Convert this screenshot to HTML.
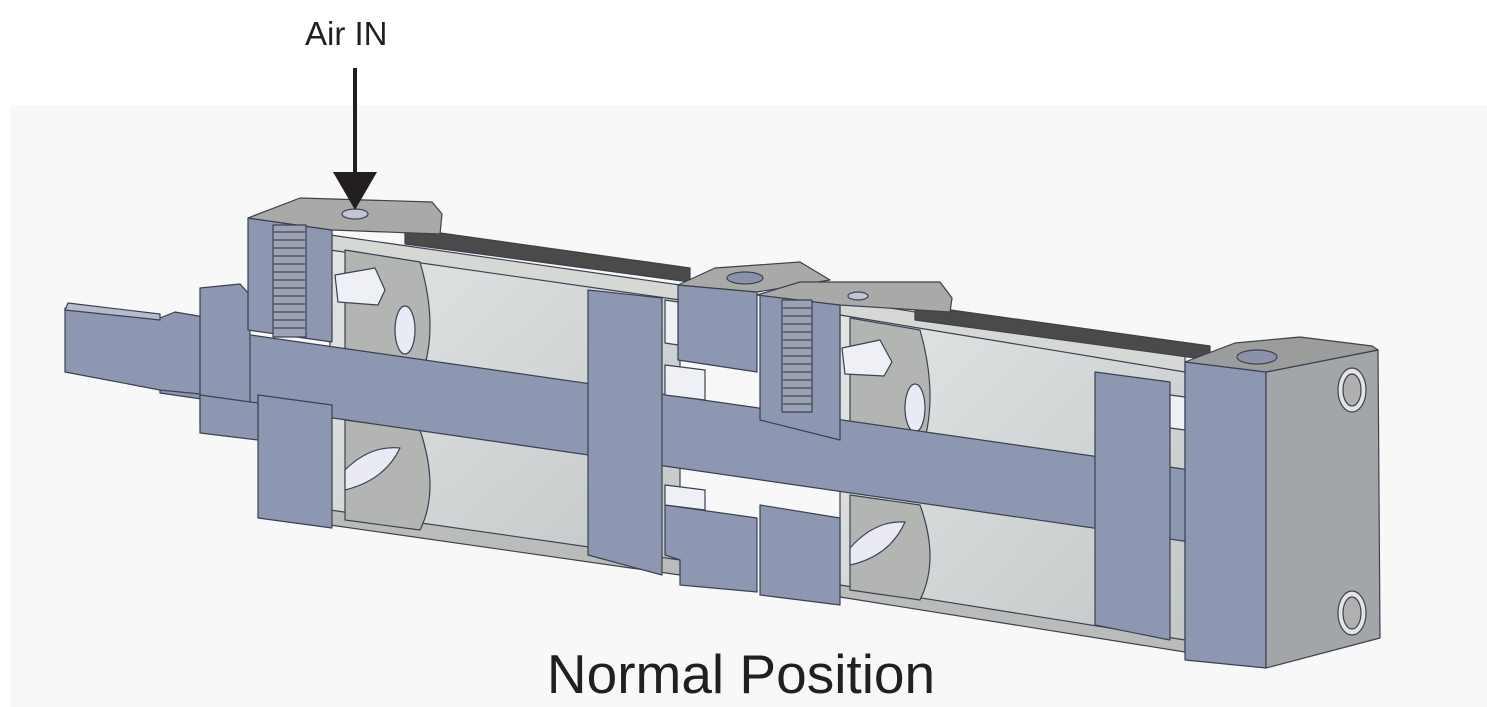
<!DOCTYPE html>
<html><head><meta charset="utf-8"><style>
html,body{margin:0;padding:0;background:#fff;width:1487px;height:707px;overflow:hidden}
svg{display:block}
text{font-family:"Liberation Sans",sans-serif;fill:#231f20}
</style></head><body>
<svg width="1487" height="707" viewBox="0 0 1487 707" xmlns="http://www.w3.org/2000/svg">
<defs>
<linearGradient id="bore" x1="0" y1="0" x2="1" y2="1">
<stop offset="0" stop-color="#e4e6e6"/><stop offset="1" stop-color="#c2c7c7"/></linearGradient>
</defs>
<rect x="10" y="105" width="1477" height="602" fill="#f8f8f8"/>
<g stroke="#3c4050" stroke-width="1.2" stroke-linejoin="round">
<polygon points="330,235 680,290 680,565 330,515" fill="url(#bore)"/>
<polygon points="330,235 680,285 680,300 330,250" fill="#d6d8d6"/>
<polygon points="405,228 690,268 690,282 405,244" fill="#4a4a4a"/>
<polygon points="330,510 680,560 680,575 330,525" fill="#b9bcba"/>
<path d="M345,250 L420,262 Q440,330 420,380 L345,370 Z" fill="#b3b5b3"/>
<path d="M345,420 L420,430 Q440,490 420,530 L345,520 Z" fill="#b3b5b3"/>
<ellipse cx="405" cy="330" rx="10" ry="24" fill="#eaeaf4"/>
<path d="M345,470 Q370,445 400,448 Q385,480 345,490 Z" fill="#eaeaf4"/>
<polygon points="335,275 375,268 385,290 378,305 338,302" fill="#eef0f6"/>
<polygon points="840,300 1185,360 1185,645 840,590" fill="url(#bore)"/>
<polygon points="840,300 1185,355 1185,372 840,315" fill="#d6d8d6"/>
<polygon points="915,305 1210,346 1210,360 915,320" fill="#4a4a4a"/>
<polygon points="840,585 1185,640 1185,652 840,597" fill="#b9bcba"/>
<path d="M850,318 L920,330 Q940,400 920,455 L850,445 Z" fill="#b3b5b3"/>
<path d="M850,495 L920,505 Q940,560 920,600 L850,590 Z" fill="#b3b5b3"/>
<ellipse cx="915" cy="408" rx="10" ry="24" fill="#eaeaf4"/>
<path d="M850,548 Q875,520 905,522 Q890,556 850,565 Z" fill="#eaeaf4"/>
<polygon points="842,348 880,340 892,362 884,376 845,374" fill="#eef0f6"/>
<polygon points="160,322 1190,470 1190,542 160,393" fill="#8d97b1"/>
<polygon points="65,308 160,318 175,312 210,318 210,395 160,390 65,372" fill="#8d97b1"/>
<polygon points="68,303 160,314 160,320 65,310" fill="#b5bccd"/>
<polygon points="200,288 240,284 250,295 250,430 200,425" fill="#8d97b1"/>
<polygon points="248,218 332,230 332,342 248,330" fill="#8d97b1"/>
<polygon points="258,395 332,405 332,528 258,518" fill="#8d97b1"/>
<polygon points="200,395 258,403 258,440 200,433" fill="#8d97b1"/>
<polygon points="248,218 300,198 432,202 442,214 440,234 332,230" fill="#a9aaa8"/>
<ellipse cx="355" cy="214" rx="13" ry="5" fill="#c0c4d4"/>
<rect x="273" y="225" width="33" height="112" fill="#9aa2b8"/>
<g stroke="#555" stroke-width="1.5">
<line x1="274" y1="232" x2="305" y2="232"/><line x1="274" y1="240" x2="305" y2="240"/><line x1="274" y1="248" x2="305" y2="248"/><line x1="274" y1="256" x2="305" y2="256"/><line x1="274" y1="264" x2="305" y2="264"/><line x1="274" y1="272" x2="305" y2="272"/><line x1="274" y1="280" x2="305" y2="280"/><line x1="274" y1="288" x2="305" y2="288"/><line x1="274" y1="296" x2="305" y2="296"/><line x1="274" y1="304" x2="305" y2="304"/><line x1="274" y1="312" x2="305" y2="312"/><line x1="274" y1="320" x2="305" y2="320"/><line x1="274" y1="328" x2="305" y2="328"/>
</g>
<polygon points="588,290 662,298 662,575 588,555" fill="#8d97b1"/>
<polygon points="678,285 757,292 757,372 678,360" fill="#8d97b1"/>
<polygon points="665,505 757,518 757,592 680,585 680,560 665,555" fill="#8d97b1"/>
<polygon points="678,285 715,268 800,262 830,280 757,292" fill="#a9aaa8"/>
<ellipse cx="745" cy="278" rx="18" ry="6" fill="#8a91a8"/>
<polygon points="665,300 678,302 678,345 665,343" fill="#eef0f6"/>
<polygon points="665,365 705,370 705,400 665,395" fill="#eef0f6"/>
<polygon points="665,485 705,490 705,510 665,505" fill="#eef0f6"/>
<polygon points="760,295 840,305 840,440 760,420" fill="#8d97b1"/>
<polygon points="760,505 840,518 840,605 760,595" fill="#8d97b1"/>
<polygon points="757,295 800,282 940,282 952,298 950,312 840,305" fill="#a9aaa8"/>
<ellipse cx="858" cy="296" rx="10" ry="4" fill="#c0c4d4"/>
<rect x="782" y="300" width="30" height="112" fill="#9aa2b8"/>
<g stroke="#555" stroke-width="1.5">
<line x1="783" y1="308" x2="811" y2="308"/><line x1="783" y1="316" x2="811" y2="316"/><line x1="783" y1="324" x2="811" y2="324"/><line x1="783" y1="332" x2="811" y2="332"/><line x1="783" y1="340" x2="811" y2="340"/><line x1="783" y1="348" x2="811" y2="348"/><line x1="783" y1="356" x2="811" y2="356"/><line x1="783" y1="364" x2="811" y2="364"/><line x1="783" y1="372" x2="811" y2="372"/><line x1="783" y1="380" x2="811" y2="380"/><line x1="783" y1="388" x2="811" y2="388"/><line x1="783" y1="396" x2="811" y2="396"/><line x1="783" y1="404" x2="811" y2="404"/>
</g>
<polygon points="1095,372 1170,382 1170,640 1095,625" fill="#8d97b1"/>
<polygon points="1170,395 1185,397 1185,430 1170,428" fill="#eef0f6"/>
<polygon points="1185,362 1266,372 1266,668 1185,660" fill="#8d97b1"/>
<polygon points="1266,372 1378,350 1380,638 1266,668" fill="#a3a6a8"/>
<polygon points="1185,362 1235,343 1300,337 1372,346 1378,350 1266,372" fill="#9b9d9c"/>
<ellipse cx="1257" cy="357" rx="20" ry="7" fill="#8a91a8"/>
<ellipse cx="1352" cy="390" rx="14" ry="22" fill="#e4e4e4"/>
<ellipse cx="1352" cy="390" rx="9" ry="16" fill="#b0b0b0"/>
<ellipse cx="1352" cy="613" rx="14" ry="22" fill="#e4e4e4"/>
<ellipse cx="1352" cy="613" rx="9" ry="16" fill="#b0b0b0"/>
</g>
<line x1="355" y1="68" x2="355" y2="178" stroke="#231f20" stroke-width="4"/>
<polygon points="333,172 377,172 355,210" fill="#231f20"/>
<text x="305" y="45" font-size="33">Air IN</text>
<text x="741" y="693" font-size="55" text-anchor="middle">Normal Position</text>
</svg>
</body></html>
